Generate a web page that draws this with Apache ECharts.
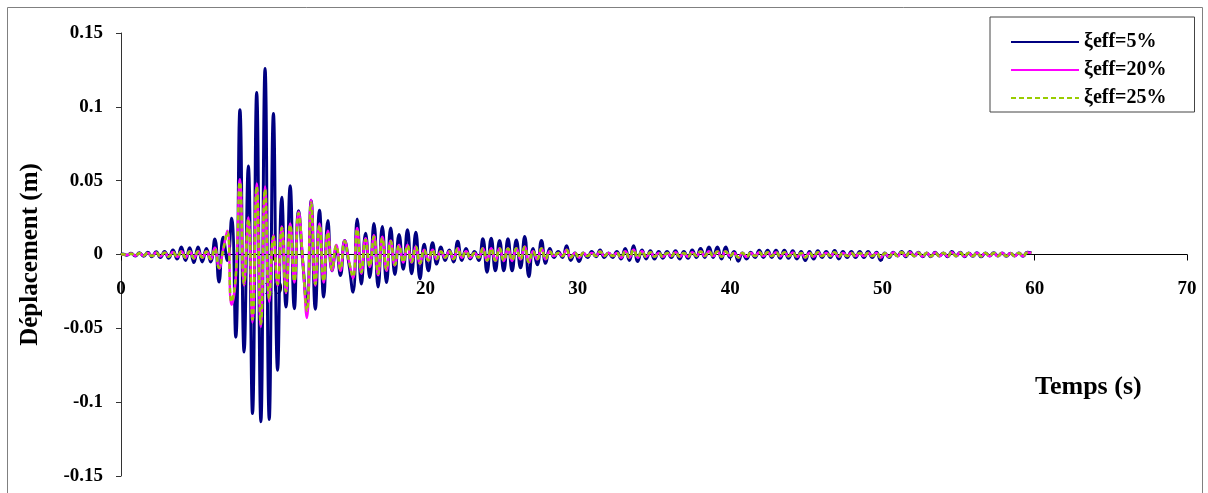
<!DOCTYPE html>
<html>
<head>
<meta charset="utf-8">
<script src="https://cdn.jsdelivr.net/npm/echarts@6/dist/echarts.min.js"></script>
<style>
html,body{margin:0;padding:0;background:#fff;}
#chart{width:1208px;height:493px;}
</style>
</head>
<body>
<div id="chart"></div>
<script>
// Sampling of the record (s): first sample time and step between samples
const startTime = 0.11;
const sampleStep = 0.275;

const seriesNames = ["ξeff=5%", "ξeff=20%", "ξeff=25%"];
const xTicks = [0, 10, 20, 30, 40, 50, 60, 70];
const yTicks = [-0.15, -0.1, -0.05, 0, 0.05, 0.1, 0.15];

// ξeff = 5 %
const disp5 = [
  0.0003,-0.0005,0.0008,-0.001,0.0012,-0.0012,0.0015,-0.0015,0.0018,-0.002,
  0.002,-0.0025,0.003,-0.003,0.005,-0.004,0.0045,-0.0055,0.005,-0.005,
  0.004,-0.005,0.0105,-0.0187,0.0117,-0.004,0.0245,-0.056,0.098,-0.066,
  0.060,-0.1077,0.1097,-0.1133,0.126,-0.1117,0.0955,-0.0784,0.0387,-0.0356,
  0.0466,-0.0367,0.0297,-0.005,-0.034,0.0365,-0.037,0.030,-0.0288,0.023,
  -0.011,0.004,-0.0142,0.0095,-0.006,-0.0255,0.024,-0.020,0.0144,-0.0155,
  0.021,-0.022,0.019,-0.019,0.018,-0.0135,0.0135,-0.010,0.0167,-0.013,
  0.015,-0.0165,0.007,-0.011,0.008,-0.0065,0.005,-0.004,0.003,-0.005,
  0.009,-0.004,0.004,-0.003,0.002,-0.004,0.0106,-0.012,0.011,-0.011,
  0.0095,-0.011,0.0106,-0.011,0.0099,-0.009,0.0122,-0.015,0.004,-0.007,
  0.0095,-0.006,0.004,-0.002,0.002,-0.002,0.006,-0.004,0.001,-0.0047,
  0.001,-0.002,0.002,-0.0015,0.003,-0.002,0.001,-0.002,0.002,-0.003,
  0.004,-0.004,0.006,-0.0047,0.003,-0.003,0.0025,-0.003,0.002,-0.0025,
  0.002,-0.002,0.0025,-0.003,0.002,-0.0025,0.003,-0.002,0.004,-0.002,
  0.005,-0.002,0.005,-0.003,0.005,-0.002,0.002,-0.0045,0.001,-0.003,
  0.0015,-0.002,0.0028,-0.002,0.0028,-0.002,0.0028,-0.0025,0.0028,-0.0025,
  0.0025,-0.003,0.002,-0.004,0.002,-0.003,0.0026,-0.002,0.002,-0.002,
  0.0027,-0.003,0.002,-0.002,0.002,-0.002,0.002,-0.002,0.002,-0.002,
  0.0015,-0.004,0.001,-0.002,0.0015,-0.001,0.002,-0.0015,0.002,-0.001,
  0.0015,-0.0015,0.001,-0.0015,0.0015,-0.001,0.001,-0.0015,0.002,-0.001,
  0.0015,-0.0015,0.001,-0.0012,0.0012,-0.0015,0.001,-0.001,0.0012,-0.001,
  0.001,-0.0012,0.0008,-0.001,0.001,-0.0012,0.0015,0.001
];

// ξeff = 20 %
const disp20 = [
  0.0002,-0.0004,0.0006,-0.0008,0.0009,-0.0009,0.0011,-0.0011,0.0013,-0.0013,
  0.0013,-0.0016,0.0017,-0.0017,0.0022,-0.0022,0.0022,-0.0027,0.0022,-0.0022,
  0.0022,-0.0033,0.0045,-0.0095,0.0035,0.016,-0.034,-0.016,0.051,-0.021,
  0.025,-0.046,0.048,-0.049,0.046,-0.032,0.013,-0.021,0.019,-0.026,
  0.021,-0.019,0.029,-0.004,-0.043,0.037,-0.021,0.021,-0.019,0.016,
  -0.011,0.0065,-0.011,0.0095,-0.004,-0.016,0.018,-0.013,0.011,-0.0085,
  0.013,-0.014,0.012,-0.011,0.0095,-0.0075,0.0065,-0.0055,0.0065,-0.0055,
  0.0055,-0.0065,0.0033,-0.0043,0.0033,-0.0033,0.0022,-0.0022,0.0022,-0.0033,
  0.0043,-0.0022,0.0022,-0.0022,0.0011,-0.0022,0.0043,-0.0043,0.0043,-0.0043,
  0.0043,-0.0043,0.0043,-0.0043,0.0043,-0.0033,0.0055,-0.0055,0.0022,-0.0033,
  0.0043,-0.0033,0.0022,-0.0011,0.0011,-0.0011,0.0033,-0.0022,0.0011,-0.0022,
  0.0011,-0.0011,0.0011,-0.0011,0.0022,-0.0011,0.0011,-0.0011,0.0011,-0.0022,
  0.0022,-0.0022,0.0033,-0.0022,0.0022,-0.0016,0.0016,-0.0016,0.0011,-0.0016,
  0.0011,-0.0011,0.0016,-0.0016,0.0011,-0.0016,0.0016,-0.0011,0.0022,-0.0011,
  0.0022,-0.0011,0.0022,-0.0016,0.0022,-0.0011,0.0011,-0.0022,0.0011,-0.0016,
  0.0011,-0.0011,0.0016,-0.0011,0.0016,-0.0011,0.0016,-0.0013,0.0016,-0.0013,
  0.0013,-0.0016,0.0011,-0.0022,0.0011,-0.0016,0.0016,-0.0011,0.0011,-0.0011,
  0.0016,-0.0016,0.0011,-0.0011,0.0011,-0.0011,0.0011,-0.0011,0.0011,-0.0011,
  0.0011,-0.0022,0.0009,-0.0016,0.0013,-0.0011,0.0016,-0.0011,0.0016,-0.0011,
  0.0013,-0.0013,0.0011,-0.0013,0.0013,-0.0011,0.0011,-0.0013,0.0016,-0.0011,
  0.0013,-0.0013,0.0011,-0.0011,0.0011,-0.0013,0.0011,-0.0011,0.0011,-0.0011,
  0.0011,-0.0011,0.0009,-0.0011,0.0011,-0.0011,0.0013,0.0011
];

// ξeff = 25 %
const disp25 = [
  0.0002,-0.0003,0.0005,-0.0007,0.0008,-0.0008,0.001,-0.001,0.0012,-0.0012,
  0.0012,-0.0015,0.0015,-0.0015,0.002,-0.002,0.002,-0.0025,0.002,-0.002,
  0.002,-0.003,0.004,-0.009,0.003,0.015,-0.032,-0.015,0.049,-0.02,
  0.024,-0.044,0.046,-0.047,0.044,-0.03,0.012,-0.02,0.018,-0.025,
  0.02,-0.018,0.028,-0.004,-0.038,0.035,-0.02,0.02,-0.018,0.015,
  -0.01,0.006,-0.01,0.009,-0.004,-0.015,0.017,-0.012,0.01,-0.008,
  0.012,-0.013,0.011,-0.01,0.009,-0.007,0.006,-0.005,0.006,-0.005,
  0.005,-0.006,0.003,-0.004,0.003,-0.003,0.002,-0.002,0.002,-0.003,
  0.004,-0.002,0.002,-0.002,0.001,-0.002,0.004,-0.004,0.004,-0.004,
  0.004,-0.004,0.004,-0.004,0.004,-0.003,0.005,-0.005,0.002,-0.003,
  0.004,-0.003,0.002,-0.001,0.001,-0.001,0.003,-0.002,0.001,-0.002,
  0.001,-0.001,0.001,-0.001,0.002,-0.001,0.001,-0.001,0.001,-0.002,
  0.002,-0.002,0.003,-0.002,0.002,-0.0015,0.0015,-0.0015,0.001,-0.0015,
  0.001,-0.001,0.0015,-0.0015,0.001,-0.0015,0.0015,-0.001,0.002,-0.001,
  0.002,-0.001,0.002,-0.0015,0.002,-0.001,0.001,-0.002,0.001,-0.0015,
  0.001,-0.001,0.0015,-0.001,0.0015,-0.001,0.0015,-0.0012,0.0015,-0.0012,
  0.0012,-0.0015,0.001,-0.002,0.001,-0.0015,0.0015,-0.001,0.001,-0.001,
  0.0015,-0.0015,0.001,-0.001,0.001,-0.001,0.001,-0.001,0.001,-0.001,
  0.001,-0.002,0.0008,-0.0015,0.0012,-0.001,0.0015,-0.001,0.0015,-0.001,
  0.0012,-0.0012,0.001,-0.0012,0.0012,-0.001,0.001,-0.0012,0.0015,-0.001,
  0.0012,-0.0012,0.001,-0.001,0.001,-0.0012,0.001,-0.001,0.001,-0.001,
  0.001,-0.001,0.0008,-0.001,0.001,-0.001,0.0012,0.001
];

function toPoints(values) {
  const pts = [[0, 0]];
  values.forEach((v, i) => pts.push([+(startTime + i * sampleStep).toFixed(3), v]));
  return pts;
}

const serif = "'Liberation Serif', 'DejaVu Serif', serif";
const chart = echarts.init(document.getElementById('chart'));

const gridTop = 33, gridBottom = 17, chartH = 493;
const plotH = chartH - gridTop - gridBottom;
const zeroOffset = -plotH * (0 - yTicks[0]) / (yTicks[yTicks.length - 1] - yTicks[0]);

chart.setOption({
  animation: false,
  backgroundColor: '#ffffff',
  grid: { left: 121, right: 21, top: gridTop, bottom: gridBottom, containLabel: false, outerBoundsMode: 'none' },
  xAxis: [
    {
      type: 'value',
      min: xTicks[0], max: xTicks[xTicks.length - 1], interval: 10,
      axisLine: { show: true, onZero: true, lineStyle: { color: '#000', width: 1 } },
      axisTick: { show: true, length: 6, inside: false, lineStyle: { color: '#000' } },
      axisLabel: { show: false },
      splitLine: { show: false }
    },
    {
      type: 'value', position: 'bottom', offset: zeroOffset,
      min: xTicks[0], max: xTicks[xTicks.length - 1], interval: 10,
      axisLine: { show: false, onZero: false },
      axisTick: { show: false },
      axisLabel: { show: true, margin: 25, fontFamily: serif, fontWeight: 'bold', fontSize: 19, color: '#000' },
      splitLine: { show: false }
    }
  ],
  yAxis: {
    type: 'value',
    min: yTicks[0], max: yTicks[yTicks.length - 1], interval: 0.05,
    axisLine: { show: true, onZero: false, lineStyle: { color: '#333', width: 1 } },
    axisTick: { show: true, length: 5, inside: false, lineStyle: { color: '#333' } },
    axisLabel: {
      margin: 18, fontFamily: serif, fontWeight: 'bold', fontSize: 19, color: '#000',
      formatter: v => String(+v.toFixed(2))
    },
    splitLine: { show: false },
    name: 'Déplacement (m)',
    nameLocation: 'middle',
    nameRotate: 90,
    nameGap: 78,
    nameTextStyle: { fontFamily: serif, fontWeight: 'bold', fontSize: 25, color: '#000' }
  },
  legend: {
    show: true,
    orient: 'vertical',
    left: 990, top: 17,
    padding: [15, 28, 4, 20],
    itemWidth: 68, itemHeight: 14, itemGap: 8,
    backgroundColor: '#fff',
    borderColor: '#444', borderWidth: 1,
    itemStyle: { opacity: 0 },
    textStyle: { fontFamily: serif, fontWeight: 'bold', fontSize: 20, color: '#000' },
    data: seriesNames
  },
  graphic: [
    {
      type: 'rect', z: -10, silent: true,
      shape: { x: 7.5, y: 7.5, width: 1195, height: 495 },
      style: { fill: 'none', stroke: '#808080', lineWidth: 1 }
    },
    {
      type: 'text', left: 1035, top: 374, silent: true,
      style: { text: 'Temps (s)', font: "bold 26px 'Liberation Serif', serif", fill: '#000' }
    }
  ],
  series: [
    {
      name: seriesNames[0], type: 'line', data: toPoints(disp5),
      showSymbol: false, symbol: 'none', smooth: 0.5,
      lineStyle: { color: '#000080', width: 3 }, itemStyle: { color: '#000080', opacity: 0 }, z: 2
    },
    {
      name: seriesNames[1], type: 'line', data: toPoints(disp20),
      showSymbol: false, symbol: 'none', smooth: 0.5,
      lineStyle: { color: '#ff00ff', width: 2.5 }, itemStyle: { color: '#ff00ff', opacity: 0 }, z: 3
    },
    {
      name: seriesNames[2], type: 'line', data: toPoints(disp25),
      showSymbol: false, symbol: 'none', smooth: 0.5,
      lineStyle: { color: '#99cc00', width: 2.5, type: [5, 3] }, itemStyle: { color: '#99cc00', opacity: 0 }, z: 4
    }
  ]
});
</script>
</body>
</html>
